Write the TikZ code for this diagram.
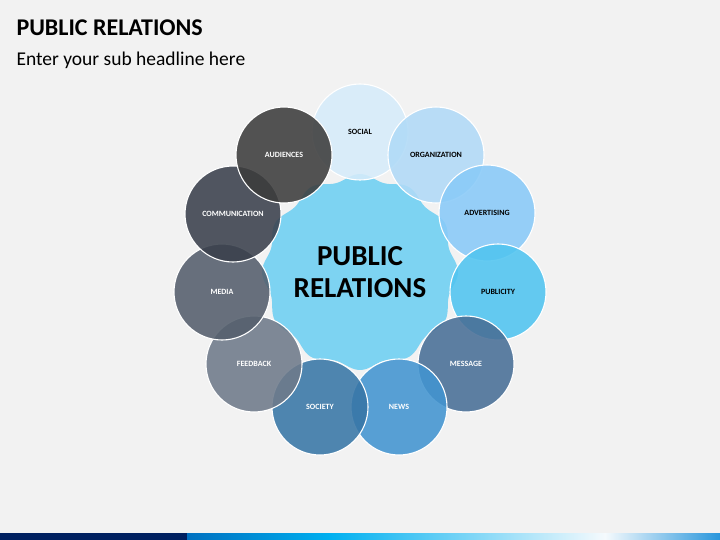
\documentclass[tikz,border=0pt]{standalone}
\usepackage{fontspec}
\setmainfont{Carlito}
\definecolor{bg}{HTML}{F2F2F2}
\definecolor{navy}{RGB}{0,32,96}
\definecolor{b1}{RGB}{0,112,192}
\definecolor{b2}{RGB}{0,176,240}
\definecolor{b3}{RGB}{245,250,253}
\definecolor{b4}{RGB}{40,150,220}
\definecolor{star}{RGB}{125,211,242}
\definecolor{c1}{RGB}{214,236,250}
\definecolor{c2}{RGB}{176,218,247}
\definecolor{c3}{RGB}{137,202,248}
\definecolor{c4}{RGB}{80,196,240}
\definecolor{c5}{RGB}{72,110,150}
\definecolor{c6}{RGB}{66,148,208}
\definecolor{c7}{RGB}{56,118,166}
\definecolor{c8}{RGB}{110,122,138}
\definecolor{c9}{RGB}{84,94,108}
\definecolor{c10}{RGB}{58,64,76}
\definecolor{c11}{RGB}{60,60,60}
\begin{document}
\begin{tikzpicture}[x=1pt,y=-1pt,
  bub/.style={circle,minimum size=96pt,inner sep=0pt,draw=white,line width=1.1pt,fill opacity=0.88,text opacity=1,font=\bfseries\fontsize{8}{9}\selectfont},
  lt/.style={bub,text=black},
  dk/.style={bub,text=white}]
\fill[bg] (0,0) rectangle (720,540);
\node[anchor=west,font=\bfseries\fontsize{24}{26}\selectfont] (title) at (13,28) {PUBLIC RELATIONS};
\node[anchor=west,font=\fontsize{19.5}{21}\selectfont] (sub) at (13,60) {Enter your sub headline here};
% bottom bar
\fill[navy] (0,533) rectangle (187,540);
\shade[left color=b1,right color=b2] (187,533) rectangle (330,540);
\shade[left color=b2,right color=b3] (330,533) rectangle (605,540);
\shade[left color=b3,right color=b4] (605,533) rectangle (720,540);
% star
\fill[star] plot[smooth cycle,samples=121,domain=0:357,variable=\t] ({360+(95+3*cos(12*\t))*cos(\t)},{272+(95+3*cos(12*\t))*sin(\t)});
\node[font=\bfseries\fontsize{29}{32}\selectfont,align=center] (center) at (360,272) {PUBLIC\\RELATIONS};
\node[lt,fill=c1] (social) at (360,132) {SOCIAL};
\node[lt,fill=c2] (org) at (436,155) {ORGANIZATION};
\node[lt,fill=c3] (adv) at (487,213) {ADVERTISING};
\node[lt,fill=c4] (pub) at (498,292) {PUBLICITY};
\node[dk,fill=c5] (msg) at (466,364) {MESSAGE};
\node[dk,fill=c6] (news) at (399,407) {NEWS};
\node[dk,fill=c7] (soc) at (320,407) {SOCIETY};
\node[dk,fill=c8] (fb) at (254,364) {FEEDBACK};
\node[dk,fill=c9] (media) at (222,292) {MEDIA};
\node[dk,fill=c10] (comm) at (233,214) {COMMUNICATION};
\node[dk,fill=c11] (aud) at (284,155) {AUDIENCES};
\end{tikzpicture}
\end{document}
